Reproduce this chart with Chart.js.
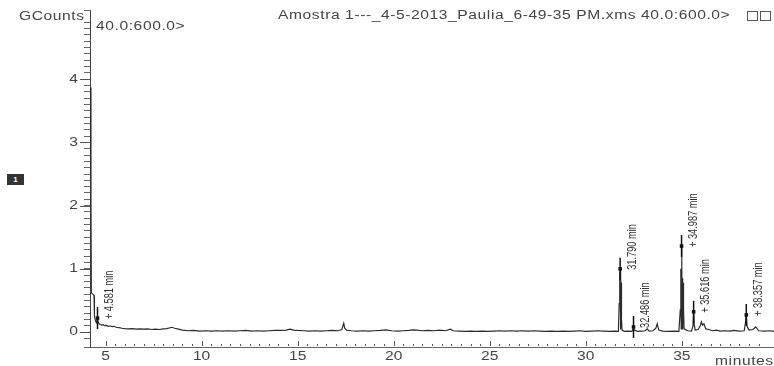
<!DOCTYPE html>
<html>
<head>
<meta charset="utf-8">
<script src="https://cdn.jsdelivr.net/npm/chart.js@4.4.1/dist/chart.umd.min.js"></script>
<style>
  body { margin: 0; background: #fff; }
  #wrap { position: relative; width: 774px; height: 366px; overflow: hidden; font-family: Arial, "Liberation Sans", sans-serif; color: #444; }
  #wrap canvas { position: absolute; left: 0; top: 0; }
  .txt { position: absolute; font-size: 12px; line-height: 14px; letter-spacing: 0.45px; white-space: nowrap; transform: scaleX(1.3); transform-origin: left top; }
  #traceNo { position: absolute; left: 7px; top: 174px; width: 17px; height: 11px; background: #333; color: #fff; font-size: 8px; font-weight: bold; text-align: center; line-height: 11px; }
  .winbox { position: absolute; top: 11px; width: 9px; height: 8px; border: 1px solid #555; }
</style>
</head>
<body>
<div id="wrap">
  <canvas id="chromChart" width="774" height="366"></canvas>
  <div class="txt" style="left:19px; top:9px;">GCounts</div>
  <div class="txt" style="left:96px; top:19px;">40.0:600.0&gt;</div>
  <div class="txt" style="left:278px; top:8px;">Amostra 1---_4-5-2013_Paulia_6-49-35 PM.xms 40.0:600.0&gt;</div>
  <div class="winbox" style="left:747px;"></div>
  <div class="winbox" style="left:760px;"></div>
  <div class="txt" style="left:715px; top:354px;">minutes</div>
  <div id="traceNo">1</div>
</div>
<script>
// Chromatogram trace (retention time in minutes, signal in GCounts)
const minutes = [
  4.19, 4.24, 4.26, 4.40, 4.42, 4.47, 4.52, 4.56, 4.58, 4.61, 4.66, 4.72, 4.80, 4.88, 4.95,
  5.05, 5.15, 5.25, 5.35, 5.45, 5.55, 5.70, 5.85, 6.00, 6.20, 6.40, 6.60, 6.80, 7.00, 7.20,
  7.40, 7.60, 7.80, 8.00, 8.20, 8.45, 8.60, 8.80, 9.00, 9.30, 9.60, 9.90, 10.2, 10.5, 10.8,
  11.1, 11.4, 11.7, 12.0, 12.3, 12.6, 12.9, 13.2, 13.5, 13.8, 14.1, 14.4, 14.6, 14.8, 15.0,
  15.3, 15.6, 15.9, 16.2, 16.5, 16.8, 17.1, 17.3, 17.4, 17.45, 17.55, 17.8, 18.1, 18.4, 18.7,
  19.0, 19.3, 19.6, 19.9, 20.2, 20.5, 20.8, 21.0, 21.2, 21.5, 21.8, 22.1, 22.4, 22.7, 22.95,
  23.1, 23.4, 23.7, 24.0, 24.3, 24.6, 24.9, 25.2, 25.5, 25.8, 26.1, 26.4, 26.7, 27.0, 27.3,
  27.6, 27.9, 28.2, 28.5, 28.8, 29.1, 29.4, 29.7, 30.0, 30.3, 30.6, 30.9, 31.2, 31.5, 31.70,
  31.74, 31.77, 31.79, 31.80, 31.81, 31.82, 31.83, 31.84, 31.86, 31.89, 32.0, 32.2, 32.4, 32.47, 32.49,
  32.52, 32.7, 32.9, 33.1, 33.2, 33.3, 33.5, 33.65, 33.72, 33.8, 34.0, 34.3, 34.6, 34.85, 34.92,
  34.95, 34.97, 34.987, 35.00, 35.01, 35.02, 35.04, 35.05, 35.07, 35.09, 35.12, 35.3, 35.5, 35.58, 35.616,
  35.65, 35.7, 35.85, 35.95, 36.02, 36.08, 36.15, 36.25, 36.4, 36.6, 36.8, 37.0, 37.2, 37.5, 37.7,
  38.0, 38.25, 38.31, 38.357, 38.40, 38.5, 38.7, 38.85, 39.0, 39.3, 39.6, 39.8
];
const gcounts = [
  3.87, 2.08, 0.62, 0.58, 0.26, 0.18, 0.15, 0.19, 0.22, 0.16, 0.13, 0.12, 0.11, 0.115, 0.10,
  0.105, 0.09, 0.095, 0.085, 0.09, 0.075, 0.07, 0.06, 0.055, 0.05, 0.055, 0.045, 0.05, 0.045, 0.05,
  0.04, 0.045, 0.04, 0.05, 0.055, 0.075, 0.06, 0.045, 0.03, 0.02, 0.025, 0.015, 0.02, 0.015, 0.02,
  0.015, 0.02, 0.015, 0.02, 0.025, 0.015, 0.02, 0.015, 0.02, 0.025, 0.025, 0.03, 0.045, 0.03, 0.025,
  0.02, 0.015, 0.02, 0.015, 0.02, 0.025, 0.02, 0.04, 0.14, 0.06, 0.03, 0.02, 0.015, 0.02, 0.015,
  0.02, 0.025, 0.035, 0.02, 0.015, 0.02, 0.025, 0.035, 0.03, 0.02, 0.025, 0.02, 0.03, 0.02, 0.045,
  0.02, 0.015, 0.01, 0.015, 0.01, 0.015, 0.01, 0.015, 0.02, 0.015, 0.02, 0.015, 0.02, 0.015, 0.02,
  0.015, 0.01, 0.015, 0.01, 0.015, 0.01, 0.015, 0.02, 0.01, 0.015, 0.02, 0.015, 0.01, 0.015, 0.01,
  0.45, 0.85, 1.00, 0.05, 0.82, 0.04, 0.80, 0.78, 0.20, 0.03, 0.01, 0.015, 0.01, 0.05, 0.08,
  0.03, 0.01, 0.015, 0.02, 0.05, 0.015, 0.02, 0.06, 0.13, 0.03, 0.015, 0.01, 0.015, 0.01, 0.35,
  1.00, 0.05, 1.36, 0.06, 1.10, 0.05, 0.85, 0.05, 0.78, 0.35, 0.05, 0.02, 0.015, 0.09, 0.32,
  0.11, 0.03, 0.04, 0.09, 0.16, 0.11, 0.13, 0.05, 0.04, 0.02, 0.03, 0.015, 0.02, 0.015, 0.025,
  0.015, 0.02, 0.14, 0.27, 0.09, 0.03, 0.04, 0.08, 0.02, 0.015, 0.02, 0.01
];

// Integrated peaks: apex time, apex height, label
const peakTimes = [4.581, 31.790, 32.486, 34.987, 35.616, 38.357];
const peakHeights = [0.22, 1.00, 0.08, 1.36, 0.32, 0.27];
const peakLabels = ['+ 4.581 min', '31.790 min', '32.486 min', '+ 34.987 min', '+ 35.616 min', '+ 38.357 min'];

// Axis tick labels
const xTickValues = [5, 10, 15, 20, 25, 30, 35];
const xTickLabels = ['5', '10', '15', '20', '25', '30', '35'];
const yTickValues = [0, 1, 2, 3, 4];
const yTickLabels = ['0', '1', '2', '3', '4'];

const FONT = 'Arial, "Liberation Sans", sans-serif';

function labelFor(value, values, labels) {
  for (let i = 0; i < values.length; i++) {
    if (Math.abs(value - values[i]) < 1e-6) return labels[i];
  }
  return '';
}

// Draws the small upward ticks on the time axis, longer major ticks on the y axis,
// and the (horizontally stretched) tick labels
const axisTicksPlugin = {
  id: 'axisTicks',
  afterDraw(chart) {
    const ctx = chart.ctx;
    const xs = chart.scales.x;
    const ys = chart.scales.y;
    const area = chart.chartArea;
    ctx.save();
    ctx.strokeStyle = '#555';
    ctx.lineWidth = 1;
    xs.ticks.forEach(t => {
      const v = t.value;
      if (Math.abs(v * 2 - Math.round(v * 2)) > 1e-6) return;
      const px = Math.round(xs.getPixelForValue(v)) + 0.5;
      const major = labelFor(v, xTickValues, xTickLabels) !== '';
      ctx.beginPath();
      ctx.moveTo(px, area.bottom - 1);
      ctx.lineTo(px, area.bottom - (major ? 6 : 3));
      ctx.stroke();
    });
    yTickValues.forEach(v => {
      const py = Math.round(ys.getPixelForValue(v)) + 0.5;
      ctx.beginPath();
      ctx.moveTo(area.left - 10, py);
      ctx.lineTo(area.left, py);
      ctx.stroke();
    });

    ctx.fillStyle = '#444';
    ctx.font = '12px ' + FONT;
    ctx.textBaseline = 'middle';
    xTickValues.forEach((v, i) => {
      const px = xs.getPixelForValue(v);
      ctx.save();
      ctx.translate(px, area.bottom + 10);
      ctx.scale(1.3, 1);
      ctx.textAlign = 'center';
      ctx.fillText(xTickLabels[i], 0, 0);
      ctx.restore();
    });
    yTickValues.forEach((v, i) => {
      const py = ys.getPixelForValue(v);
      ctx.save();
      ctx.translate(area.left - 12, py);
      ctx.scale(1.3, 1);
      ctx.textAlign = 'right';
      ctx.fillText(yTickLabels[i], 0, 0);
      ctx.restore();
    });
    ctx.restore();
  }
};

// Rotated retention-time labels next to each peak marker
const peakLabelPlugin = {
  id: 'peakLabels',
  afterDatasetsDraw(chart) {
    const ctx = chart.ctx;
    const xs = chart.scales.x;
    const ys = chart.scales.y;
    ctx.save();
    ctx.fillStyle = '#333';
    ctx.font = '11px ' + FONT;
    ctx.textAlign = 'left';
    ctx.textBaseline = 'middle';
    peakTimes.forEach((t, i) => {
      const px = xs.getPixelForValue(t);
      const py = ys.getPixelForValue(peakHeights[i]);
      ctx.save();
      ctx.translate(px + 12, py + 1);
      ctx.rotate(-Math.PI / 2);
      ctx.scale(0.84, 1.2);
      ctx.fillText(peakLabels[i], 0, 0);
      ctx.restore();
    });
    ctx.restore();
  }
};

function buildChart() {
  const ctx = document.getElementById('chromChart').getContext('2d');
  const trace = minutes.map((m, i) => ({ x: m, y: gcounts[i] }));
  const peaks = peakTimes.map((t, i) => ({ x: t, y: peakHeights[i] }));

  window.chromChart = new Chart(ctx, {
    type: 'line',
    data: {
      datasets: [
        {
          label: 'TIC',
          data: trace,
          borderColor: '#2b2b2b',
          borderWidth: 1.2,
          pointRadius: 0,
          tension: 0,
          order: 3
        },
        {
          type: 'scatter',
          label: 'peak marks',
          data: peaks,
          pointStyle: 'line',
          rotation: 90,
          radius: 11,
          borderColor: '#111',
          borderWidth: 1.5,
          order: 2
        },
        {
          type: 'scatter',
          label: 'peak apex',
          data: peaks,
          pointStyle: 'rect',
          radius: 2.5,
          backgroundColor: '#111',
          borderColor: '#111',
          borderWidth: 0,
          order: 1
        }
      ]
    },
    options: {
      responsive: false,
      animation: false,
      devicePixelRatio: 1,
      layout: { autoPadding: false, padding: { top: 10, left: 0, right: 0, bottom: 0 } },
      plugins: {
        legend: { display: false },
        tooltip: { enabled: false }
      },
      scales: {
        x: {
          type: 'linear',
          min: 4.19,
          max: 39.8,
          afterFit(scale) {
            scale.height = 19;
            scale.paddingLeft = 0;
            scale.paddingRight = 0;
          },
          border: { display: true, color: '#666', width: 1 },
          grid: { display: true, drawOnChartArea: false, drawTicks: false },
          ticks: { stepSize: 0.5, autoSkip: false, maxRotation: 0, display: false }
        },
        y: {
          type: 'linear',
          min: -0.237,
          max: 5.095,
          afterFit(scale) {
            scale.width = 90;
            scale.paddingTop = 0;
            scale.paddingBottom = 0;
          },
          border: { display: true, color: '#444', width: 1 },
          grid: { display: true, drawOnChartArea: false, tickLength: 6, tickColor: '#666' },
          ticks: { stepSize: 0.1, autoSkip: false, display: false }
        }
      }
    },
    plugins: [axisTicksPlugin, peakLabelPlugin]
  });
}

buildChart();
</script>
</body>
</html>
